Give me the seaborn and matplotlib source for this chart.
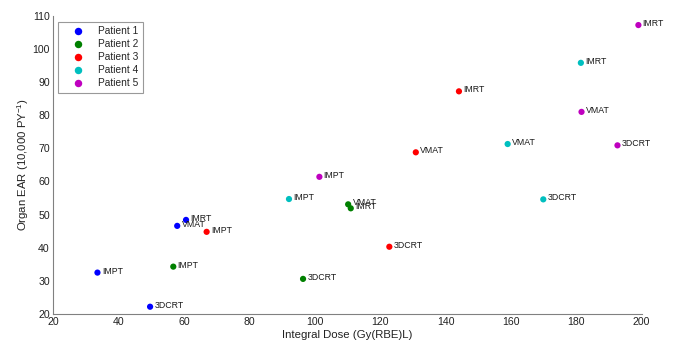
import matplotlib
matplotlib.use("Agg")
import matplotlib.pyplot as plt
import seaborn as sns
import pandas as pd

patients = ["Patient 1", "Patient 2", "Patient 3", "Patient 4", "Patient 5"]
colors = ["#0000ff", "#008000", "#ff0000", "#00bfbf", "#bf00bf"]

# (technique, integral dose, organ EAR) per patient
p1_tech = ["IMPT", "3DCRT", "VMAT", "IMRT"]
p1_dose = [33.5, 49.6, 57.9, 60.6]
p1_ear = [32.5, 22.2, 46.6, 48.4]

p2_tech = ["IMPT", "3DCRT", "VMAT", "IMRT"]
p2_dose = [56.7, 96.4, 110.2, 111.0]
p2_ear = [34.3, 30.6, 53.1, 51.9]

p3_tech = ["IMPT", "3DCRT", "VMAT", "IMRT"]
p3_dose = [66.9, 122.8, 130.9, 144.1]
p3_ear = [44.8, 40.3, 68.8, 87.2]

p4_tech = ["IMPT", "VMAT", "3DCRT", "IMRT"]
p4_dose = [92.1, 159.0, 169.9, 181.4]
p4_ear = [54.7, 71.3, 54.6, 95.8]

p5_tech = ["IMPT", "VMAT", "3DCRT", "IMRT"]
p5_dose = [101.4, 181.6, 192.6, 199.0]
p5_ear = [61.4, 81.0, 70.9, 107.2]

x_ticks = [20, 40, 60, 80, 100, 120, 140, 160, 180, 200]
y_ticks = [20, 30, 40, 50, 60, 70, 80, 90, 100, 110]

rows = []
for name, t, d, e in zip(patients,
                         [p1_tech, p2_tech, p3_tech, p4_tech, p5_tech],
                         [p1_dose, p2_dose, p3_dose, p4_dose, p5_dose],
                         [p1_ear, p2_ear, p3_ear, p4_ear, p5_ear]):
    for ti, di, ei in zip(t, d, e):
        rows.append({"Patient": name, "Technique": ti, "Dose": di, "EAR": ei})
df = pd.DataFrame(rows)

sns.set_style("white")
plt.rcParams["font.family"] = ["Liberation Sans", "DejaVu Sans"]
plt.rcParams["mathtext.fontset"] = "custom"
plt.rcParams["mathtext.rm"] = "Liberation Sans"

fig = plt.figure(figsize=(6.76, 3.43), dpi=100)
ax = fig.add_axes([0.0789, 0.0845, 0.8703, 0.8695])

sns.scatterplot(data=df, x="Dose", y="EAR", hue="Patient", hue_order=patients,
                palette=colors, s=20, edgecolor="none", ax=ax, zorder=3)

for _, r in df.iterrows():
    ax.annotate(r["Technique"], (r["Dose"], r["EAR"]), xytext=(3.1, 1.1),
                textcoords="offset points", ha="left", va="center",
                fontsize=6.3, color="#1a1a1a", zorder=4)

ax.set_xlim(20, 200)
ax.set_ylim(20, 110)
ax.set_xticks(x_ticks)
ax.set_yticks(y_ticks)
ax.tick_params(axis="both", direction="in", length=4, width=0.8,
               labelsize=7.6, color="#777777", labelcolor="#222222", pad=2.5)
for s in ["top", "right"]:
    ax.spines[s].set_visible(False)
for s in ["left", "bottom"]:
    ax.spines[s].set_color("#808080")
    ax.spines[s].set_linewidth(0.8)

ax.set_xlabel("Integral Dose (Gy(RBE)L)", fontsize=8.2, color="#222222", labelpad=2)
ax.set_ylabel(r"Organ EAR (10,000 PY$^{\mathregular{-1}}$)", fontsize=8.2,
              color="#222222", labelpad=1)

leg = ax.legend(loc="upper left", bbox_to_anchor=(0.0075, 0.98), frameon=True,
                fancybox=False, edgecolor="#808080", fontsize=7.3,
                markerscale=1.2, handletextpad=0.5, borderpad=0.45,
                borderaxespad=0, labelspacing=0.3, handlelength=3.0, title=None)
leg.get_frame().set_linewidth(0.8)

fig.savefig("out.png", dpi=100)
